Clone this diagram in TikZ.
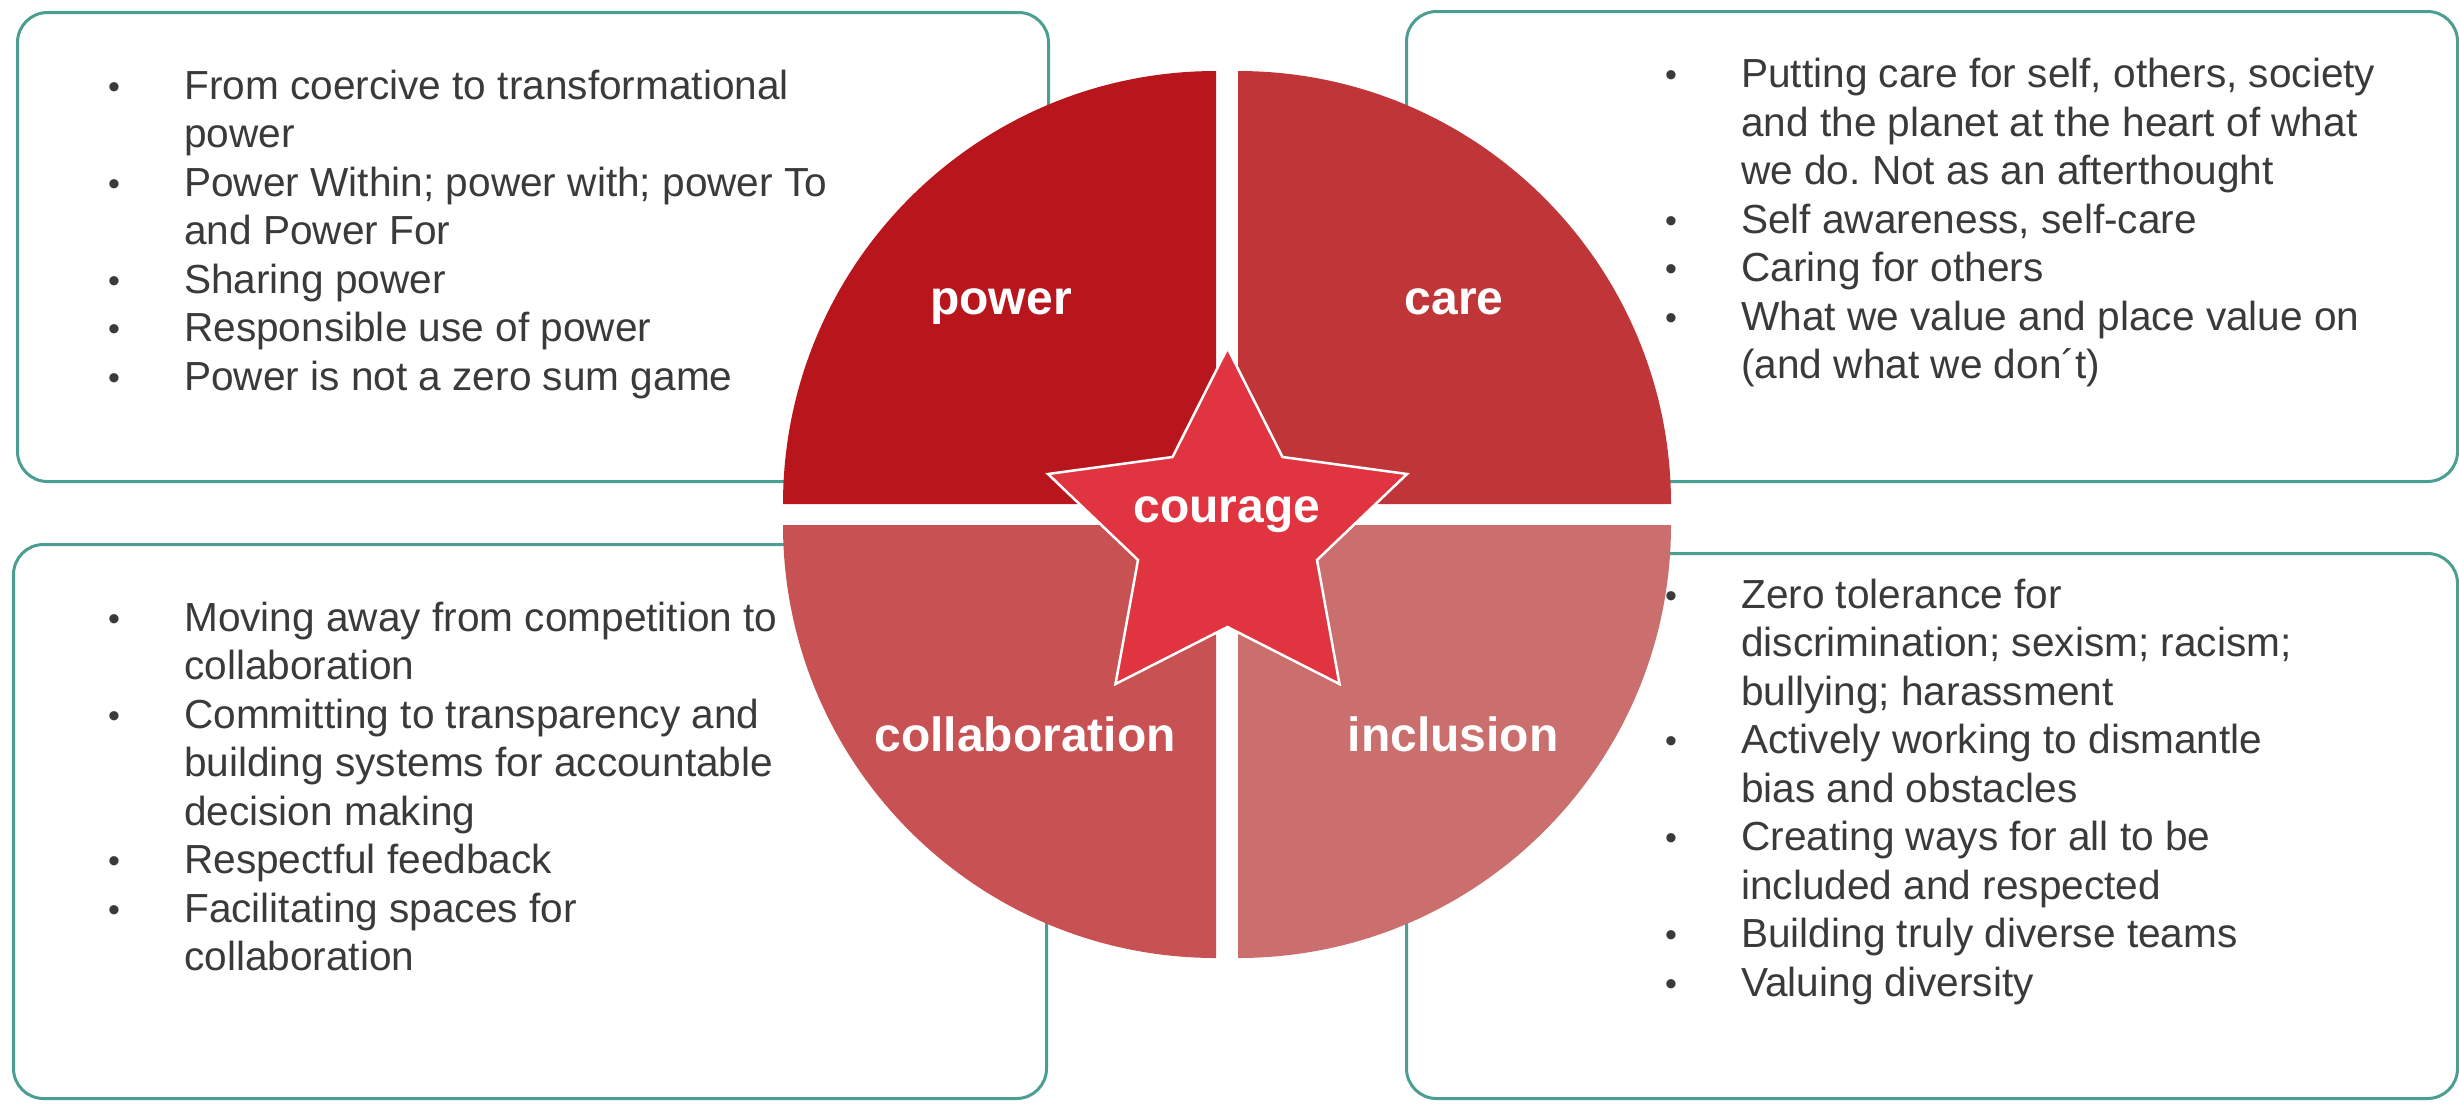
\documentclass[tikz,border=0pt]{standalone}
\usepackage{fontspec}
\setmainfont{Liberation Sans}
\usepackage{array}
\frenchspacing
\definecolor{boxteal}{HTML}{4A9E92}
\definecolor{textgray}{HTML}{3A3A3A}
\definecolor{cpower}{HTML}{B8161C}
\definecolor{ccare}{HTML}{BF3538}
\definecolor{ccollab}{HTML}{C75153}
\definecolor{cincl}{HTML}{CA6E6E}
\definecolor{cstar}{HTML}{E03541}
\newcommand{\bul}{\raisebox{1pt}{\fontsize{34}{34}\selectfont •}}
\begin{document}
\begin{tikzpicture}[x=1pt,y=-1pt,
  panel/.style={draw=boxteal, line width=3pt, fill=white, rounded corners=30pt, inner sep=0pt, anchor=north west},
  lbl/.style={text=white, font=\bfseries\fontsize{48}{56}\selectfont, anchor=base, inner sep=0pt},
  txt/.style={text=textgray, anchor=base west, inner sep=0pt, font=\fontsize{40.6}{48.5}\selectfont},
  starshape/.style={fill=cstar, draw=white, line width=2.5pt, line join=miter}
]
\useasboundingbox (0,0) rectangle (2459,1104);
% panels
\node[panel, minimum width=1031pt, minimum height=469pt] (tl) at (16,11) {};
\node[panel, minimum width=1051pt, minimum height=470pt] (tr) at (1405,10) {};
\node[panel, minimum width=1033pt, minimum height=554pt] (bl) at (12,543) {};
\node[panel, minimum width=1051pt, minimum height=545pt] (br) at (1405,552) {};
% quadrants
\fill[cpower] (1216,504) -- (783,504) arc[start angle=180, end angle=90, radius=433pt] -- cycle;
\fill[ccare] (1238,504) -- (1238,71) arc[start angle=90, end angle=0, radius=433pt] -- cycle;
\fill[ccollab] (1216,525) -- (783,525) arc[start angle=180, end angle=270, radius=433pt] -- cycle;
\fill[cincl] (1238,525) -- (1671,525) arc[start angle=0, end angle=-90, radius=433pt] -- cycle;
% star
\filldraw[starshape] (1227.5,348) -- (1282.5,457) -- (1407,474) -- (1317,560) -- (1339.5,684) -- (1227.5,627) -- (1115.5,684) -- (1138,560) -- (1048,474) -- (1172.5,457) -- cycle;
% labels
\node[lbl] (lpower) at (1001,314) {power};
\node[lbl] (lcare) at (1454,314) {care};
\node[lbl] (lcollab) at (1025,751) {collaboration};
\node[lbl] (lincl) at (1453,751) {inclusion};
\node[lbl] (lcourage) at (1227,522) {courage};
% texts
\node[txt] (ttl) at (108,99) {\begin{tabular}[t]{@{}p{76pt}@{}l@{}}
\bul & From coercive to transformational\\
 & power\\
\bul & Power Within; power with; power To\\
 & and Power For\\
\bul & Sharing power\\
\bul & Responsible use of power\\
\bul & Power is not a zero sum game
\end{tabular}};
\node[txt] (ttr) at (1665,87.5) {\begin{tabular}[t]{@{}p{76pt}@{}l@{}}
\bul & Putting care for self, others, society\\
 & and the planet at the heart of what\\
 & we do. Not as an afterthought\\
\bul & Self awareness, self-care\\
\bul & Caring for others\\
\bul & What we value and place value on\\
 & (and what we don´t)
\end{tabular}};
\node[txt] (tbl) at (108,631) {\begin{tabular}[t]{@{}p{76pt}@{}l@{}}
\bul & Moving away from competition to\\
 & collaboration\\
\bul & Committing to transparency and\\
 & building systems for accountable\\
 & decision making\\
\bul & Respectful feedback\\
\bul & Facilitating spaces for\\
 & collaboration
\end{tabular}};
\node[txt] (tbr) at (1665,608) {\begin{tabular}[t]{@{}p{76pt}@{}l@{}}
\bul & Zero tolerance for\\
 & discrimination; sexism; racism;\\
 & bullying; harassment\\
\bul & Actively working to dismantle\\
 & bias and obstacles\\
\bul & Creating ways for all to be\\
 & included and respected\\
\bul & Building truly diverse teams\\
\bul & Valuing diversity
\end{tabular}};
\end{tikzpicture}
\end{document}
